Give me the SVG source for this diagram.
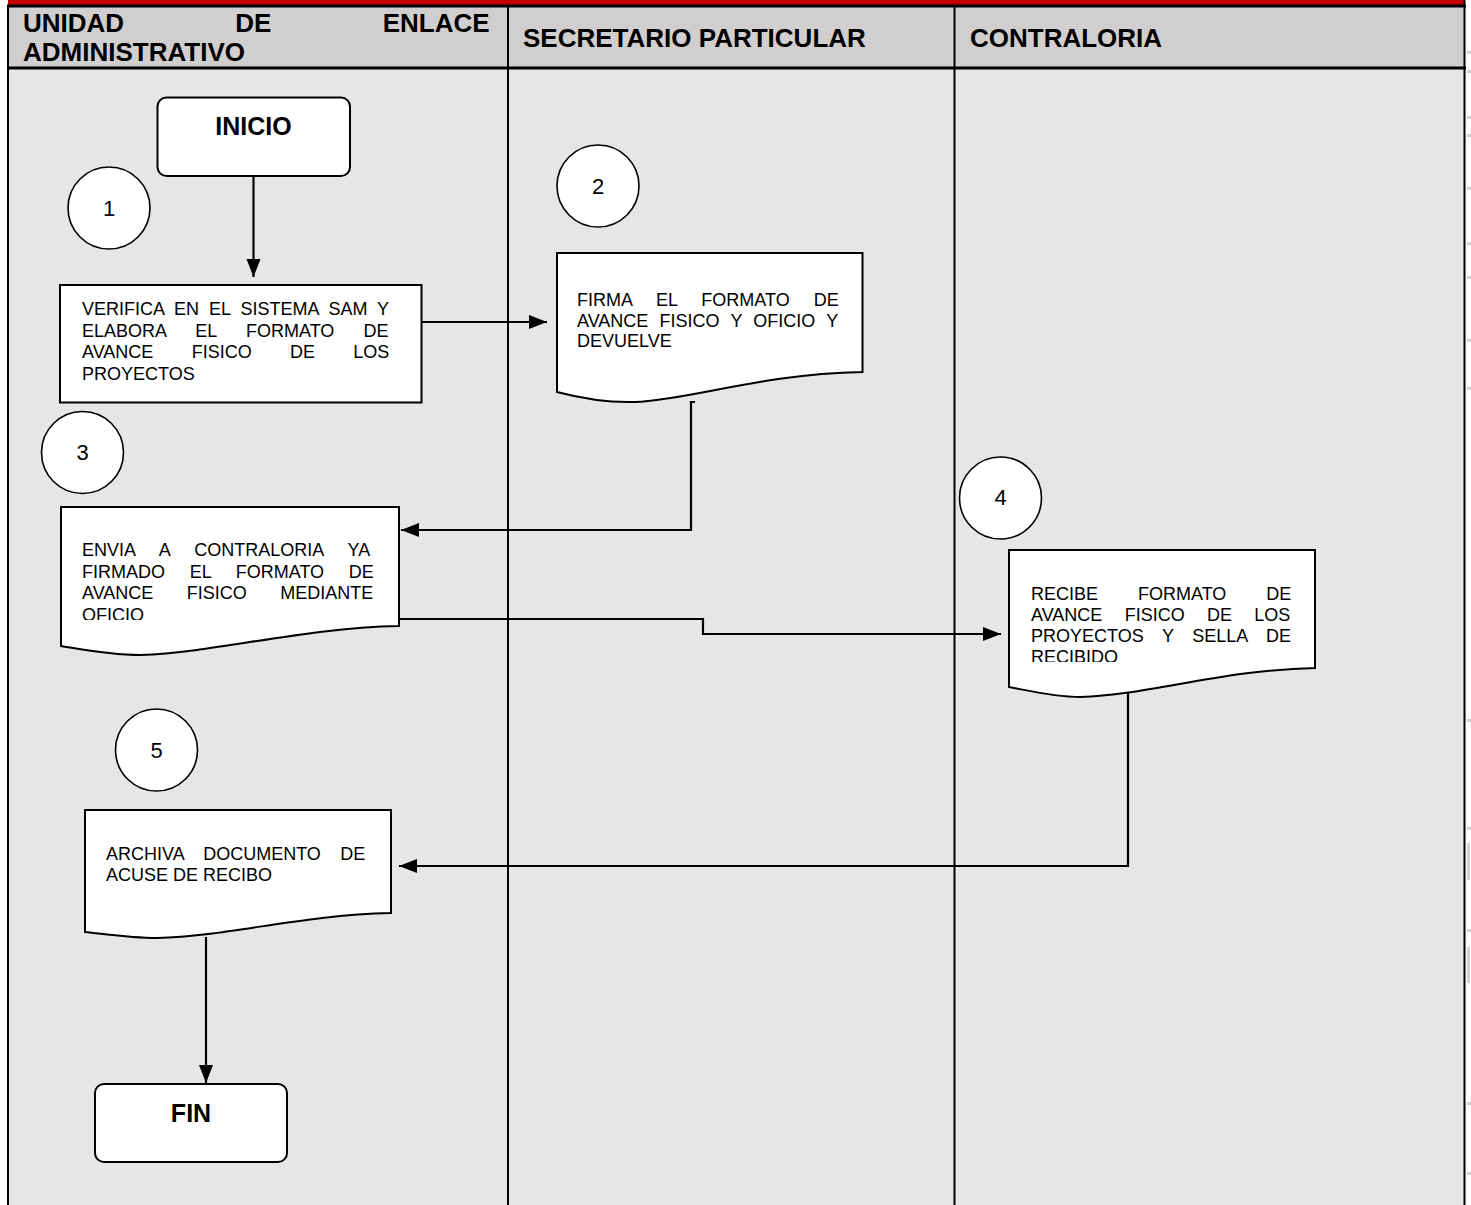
<svg xmlns="http://www.w3.org/2000/svg" width="1471" height="1205" viewBox="0 0 1471 1205">
  <style>
    .hdr { font-family: "Liberation Sans", Arial, sans-serif; font-weight: bold; font-size: 26px; fill: #000; }
    .term { font-family: "Liberation Sans", Arial, sans-serif; font-weight: bold; font-size: 25px; fill: #000; text-anchor: middle; }
    .body { font-family: "Liberation Sans", Arial, sans-serif; font-size: 18px; fill: #000; }
    .num { font-family: "Liberation Sans", Arial, sans-serif; font-size: 22px; fill: #000; text-anchor: middle; }
    .box { fill: #fff; stroke: #000; stroke-width: 2; }
    .step { fill: #fff; stroke: #000; stroke-width: 1.6; }
    .lane { stroke: #000; stroke-width: 2; }
    .rule { stroke: #000; stroke-width: 3; }
    .wire { fill: none; stroke: #000; stroke-width: 2.2; }
    .edge { fill: #d6d3ce; }
  </style>
  <defs>
    <marker id="arrow" markerUnits="userSpaceOnUse" markerWidth="20" markerHeight="16" refX="18" refY="7" orient="auto">
      <path d="M0,0 L18,7 L0,14 Z" fill="#000"/>
    </marker>
    <clipPath id="clip3"><rect x="61" y="507" width="338" height="113"/></clipPath>
    <clipPath id="clip4"><rect x="1009" y="550" width="306" height="112"/></clipPath>
  </defs>

  <!-- page background -->
  <rect x="0" y="0" width="1471" height="1205" fill="#fff"/>

  <!-- swimlane table -->
  <g id="lanes">
    <rect x="8" y="0" width="1456" height="6" fill="#c00000"/>
    <rect x="8" y="6" width="1456" height="62" fill="#d0cecf"/>
    <rect x="8" y="68" width="1456" height="1137" fill="#e6e6e6"/>
    <line class="rule" x1="7" y1="6" x2="1466" y2="6"/>
    <line class="rule" x1="7" y1="68" x2="1466" y2="68"/>
    <line class="lane" x1="8" y1="5" x2="8" y2="1205"/>
    <line class="lane" x1="508" y1="5" x2="508" y2="1205"/>
    <line class="lane" x1="954.5" y1="5" x2="954.5" y2="1205"/>
    <line class="lane" x1="1464.5" y1="0" x2="1464.5" y2="1205"/>
    <text class="hdr" x="23" y="31.5" word-spacing="104">UNIDAD DE ENLACE</text>
    <text class="hdr" x="23" y="61">ADMINISTRATIVO</text>
    <text class="hdr" x="523" y="46.5">SECRETARIO PARTICULAR</text>
    <text class="hdr" x="970" y="46.5">CONTRALORIA</text>
  </g>

  <!-- connectors -->
  <g id="connectors">
    <path class="wire" d="M253.5,165 V277" marker-end="url(#arrow)"/>
    <path class="wire" d="M422,322 H547" marker-end="url(#arrow)"/>
    <path class="wire" d="M695,402 H691 V530 H401" marker-end="url(#arrow)"/>
    <path class="wire" d="M400,619 H703 V634 H1001" marker-end="url(#arrow)"/>
    <path class="wire" d="M1128,692 V866 H399" marker-end="url(#arrow)"/>
    <path class="wire" d="M206,937 V1083" marker-end="url(#arrow)"/>
  </g>

  <g id="inicio">
    <rect class="box" x="157.5" y="97.5" width="192.5" height="78.5" rx="9"/>
    <text class="term" x="253.5" y="135">INICIO</text>
  </g>

  <g id="circle1">
    <circle class="step" cx="109" cy="208" r="41"/>
    <text class="num" x="109" y="216">1</text>
  </g>

  <g id="step1">
    <rect class="box" x="60" y="285" width="361.5" height="117.5"/>
    <text class="body" x="82" y="315" word-spacing="5">VERIFICA EN EL SISTEMA SAM Y</text>
    <text class="body" x="82" y="336.5" word-spacing="24.3">ELABORA EL FORMATO DE</text>
    <text class="body" x="82" y="358" word-spacing="33.3">AVANCE FISICO DE LOS</text>
    <text class="body" x="82" y="379.5">PROYECTOS</text>
  </g>

  <g id="circle2">
    <circle class="step" cx="598" cy="186" r="41"/>
    <text class="num" x="598" y="194">2</text>
  </g>

  <g id="step2">
    <path class="box" d="M557,253 H862.5 V372 C760,374 690,400 635,402 C605,403 580,398 557,392 Z"/>
    <text class="body" x="577" y="305.5" word-spacing="19">FIRMA EL FORMATO DE</text>
    <text class="body" x="577" y="326.5" word-spacing="6.2">AVANCE FISICO Y OFICIO Y</text>
    <text class="body" x="577" y="347">DEVUELVE</text>
  </g>

  <g id="circle3">
    <circle class="step" cx="82.5" cy="452.5" r="41"/>
    <text class="num" x="82.5" y="460">3</text>
  </g>

  <g id="step3">
    <path class="box" d="M61,507 H399 V626 C300,628 220,652 140,655 C110,655 85,650 61,646 Z"/>
    <g clip-path="url(#clip3)">
      <text class="body" x="82" y="556" word-spacing="19.6">ENVIA A CONTRALORIA YA</text>
      <text class="body" x="82" y="577.5" word-spacing="19.7">FIRMADO EL FORMATO DE</text>
      <text class="body" x="82" y="599" word-spacing="28.5">AVANCE FISICO MEDIANTE</text>
      <text class="body" x="82" y="620.5">OFICIO</text>
    </g>
  </g>

  <g id="circle4">
    <circle class="step" cx="1000.5" cy="498" r="41"/>
    <text class="num" x="1000.5" y="505">4</text>
  </g>

  <g id="step4">
    <path class="box" d="M1009,550 H1315 V668 C1220,670 1150,695 1080,697 C1055,697 1030,691 1009,687 Z"/>
    <g clip-path="url(#clip4)">
      <text class="body" x="1031" y="600" word-spacing="35">RECIBE FORMATO DE</text>
      <text class="body" x="1031" y="621" word-spacing="17.3">AVANCE FISICO DE LOS</text>
      <text class="body" x="1031" y="642" word-spacing="13.6">PROYECTOS Y SELLA DE</text>
      <text class="body" x="1031" y="663">RECIBIDO</text>
    </g>
  </g>

  <g id="circle5">
    <circle class="step" cx="156.5" cy="750" r="41"/>
    <text class="num" x="156.5" y="758">5</text>
  </g>

  <g id="step5">
    <path class="box" d="M85,810 H391 V913 C300,915 230,936 157,938 C130,938 105,934 85,932 Z"/>
    <text class="body" x="106" y="860" word-spacing="14.5">ARCHIVA DOCUMENTO DE</text>
    <text class="body" x="106" y="881">ACUSE DE RECIBO</text>
  </g>

  <g id="fin">
    <rect class="box" x="95" y="1084" width="192" height="78" rx="9"/>
    <text class="term" x="191" y="1121.5">FIN</text>
  </g>

  <!-- faint marks along the torn right edge of the page -->
  <g id="page-edge">
    <rect class="edge" x="1467" y="51" width="4" height="3"/>
    <rect class="edge" x="1467" y="70" width="4" height="3"/>
    <rect class="edge" x="1467" y="116" width="4" height="3"/>
    <rect class="edge" x="1467" y="134" width="4" height="3"/>
    <rect class="edge" x="1467" y="187" width="4" height="3"/>
    <rect class="edge" x="1467" y="242" width="4" height="3"/>
    <rect class="edge" x="1467" y="276" width="4" height="3"/>
    <rect class="edge" x="1467" y="339" width="4" height="3"/>
    <rect class="edge" x="1467" y="387" width="4" height="3"/>
    <rect class="edge" x="1467" y="719" width="4" height="3"/>
    <rect class="edge" x="1467" y="827" width="4" height="3"/>
    <rect class="edge" x="1467" y="843" width="3" height="37"/>
    <rect class="edge" x="1467" y="929" width="4" height="3"/>
    <rect class="edge" x="1467" y="947" width="3" height="36"/>
    <rect class="edge" x="1467" y="1102" width="4" height="3"/>
    <rect class="edge" x="1467" y="1172" width="4" height="3"/>
  </g>
</svg>
